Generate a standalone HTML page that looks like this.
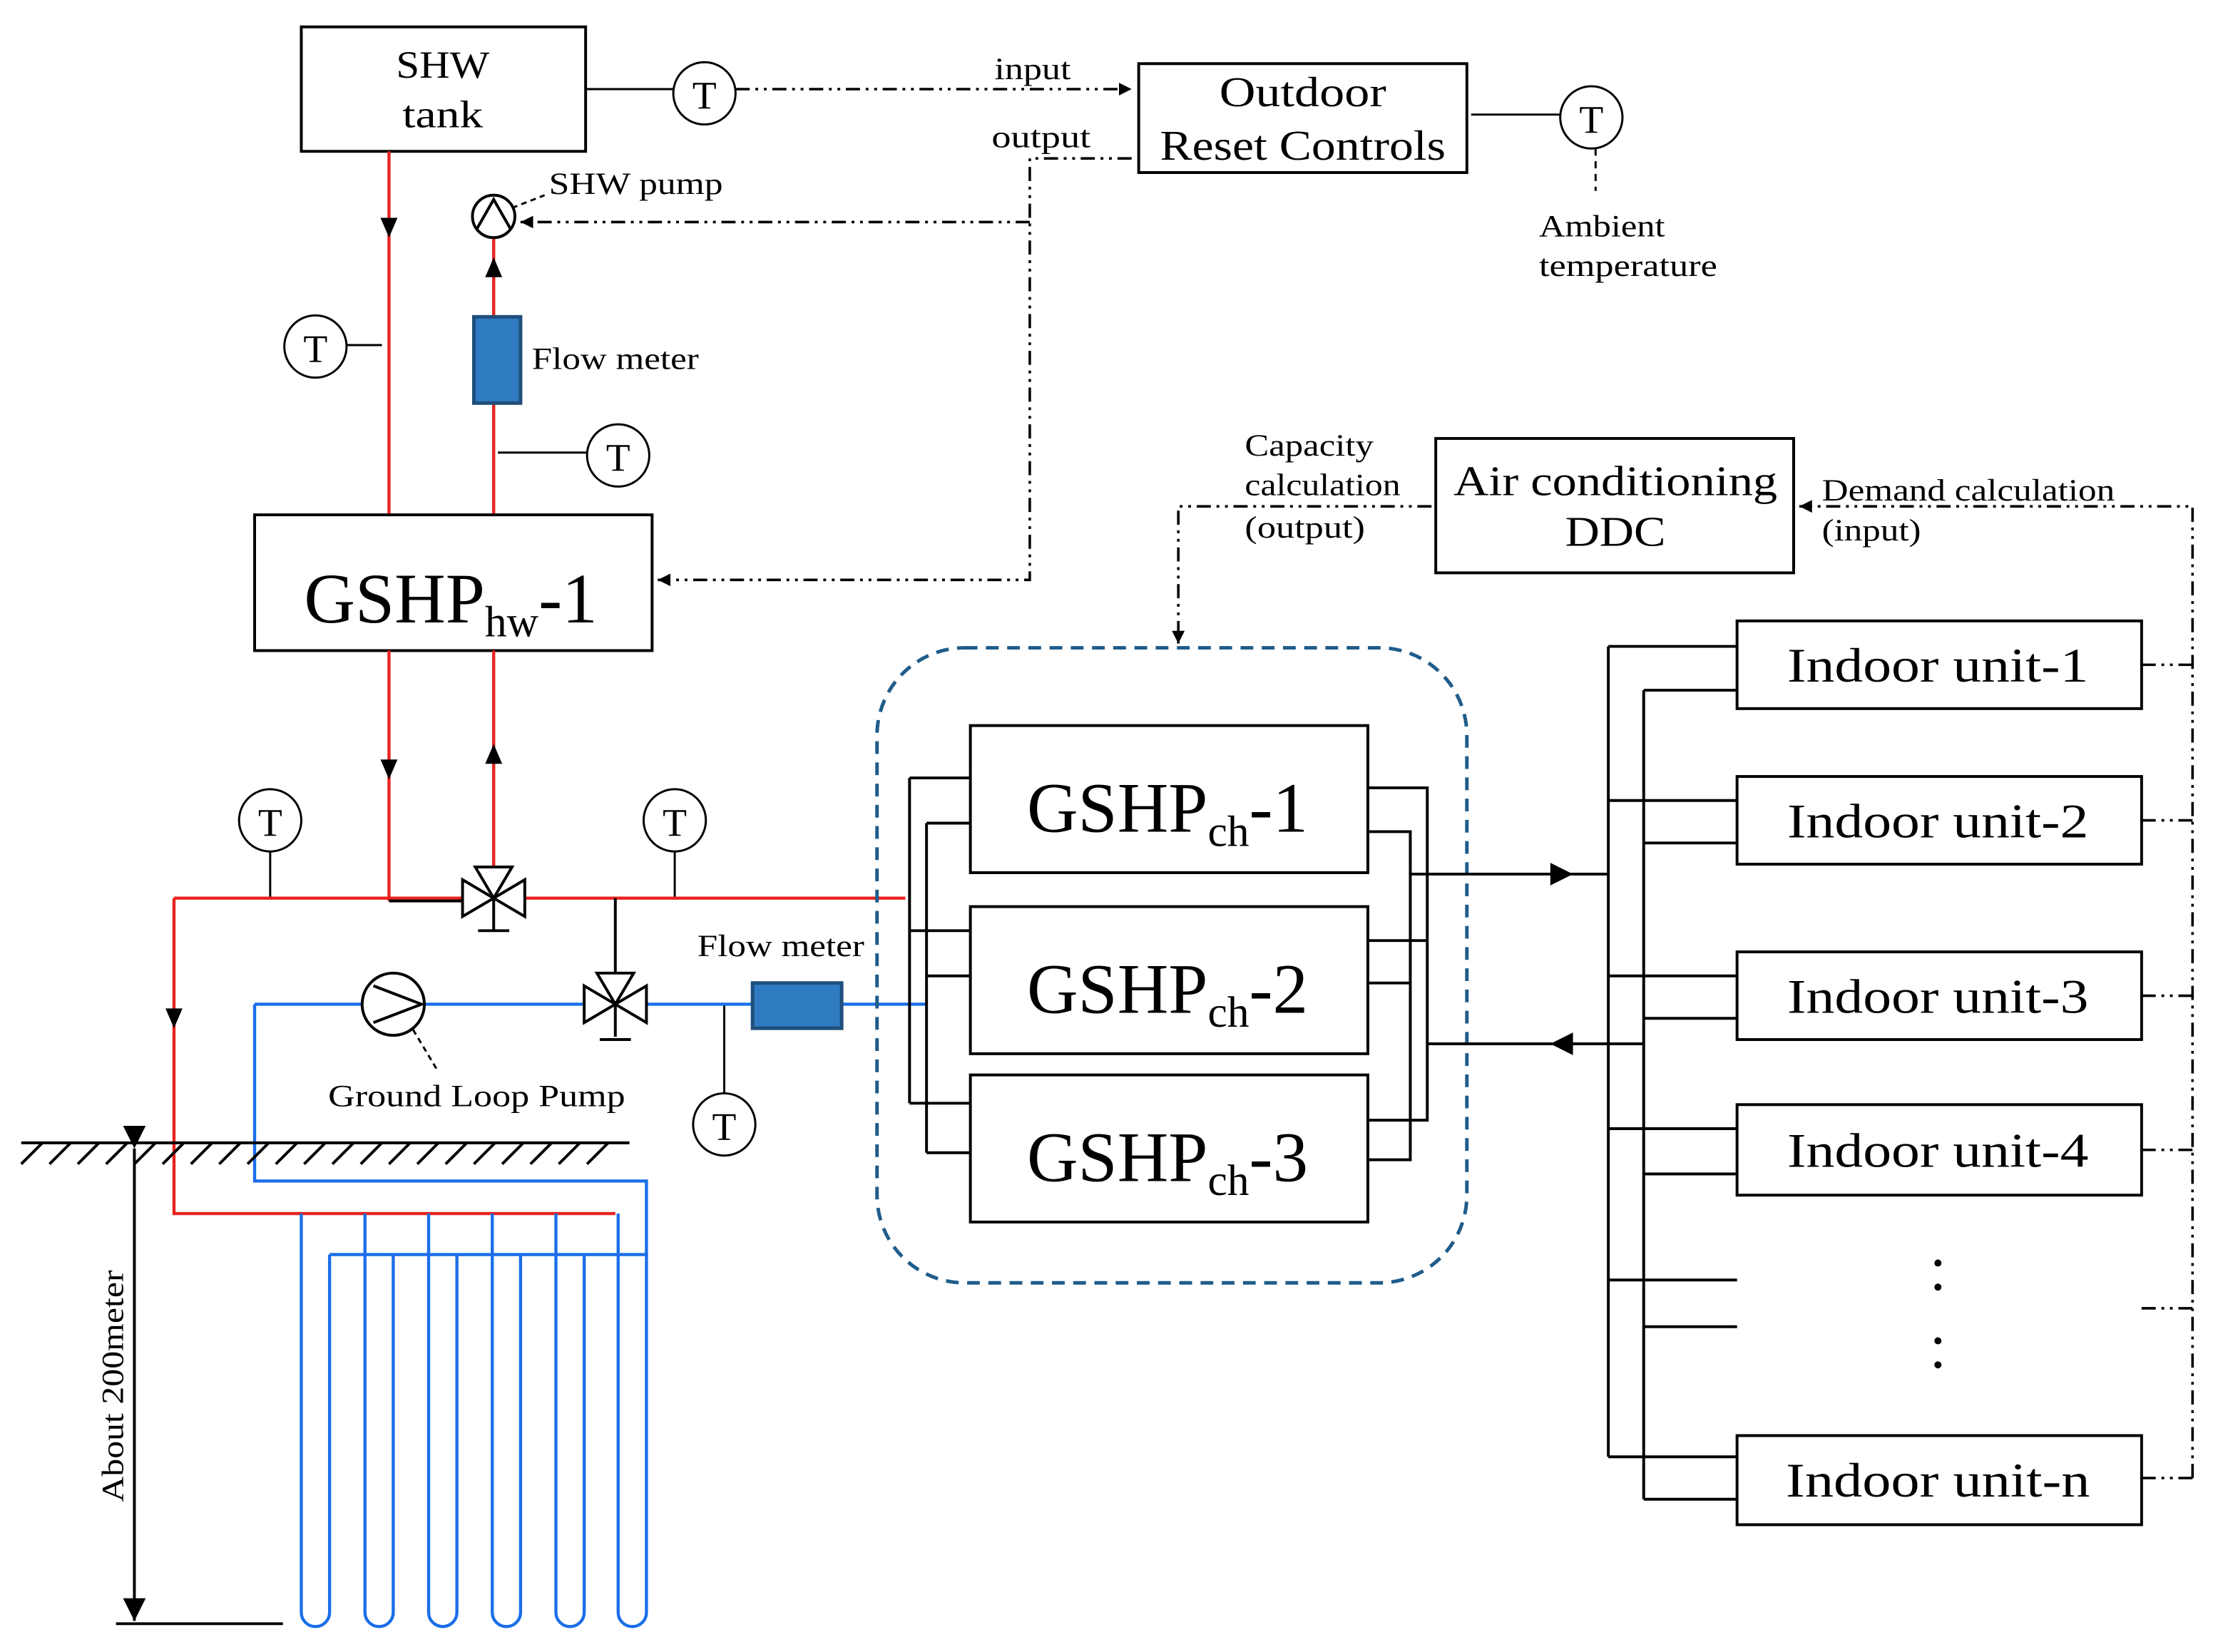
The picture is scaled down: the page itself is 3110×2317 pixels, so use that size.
<!DOCTYPE html>
<html><head><meta charset="utf-8"><style>html,body{margin:0;padding:0;background:#fff}svg{display:block}text{font-family:"Liberation Serif",serif;fill:#000}</style></head><body>
<svg width="3110" height="2317" viewBox="0 0 1568 1168" preserveAspectRatio="none" xmlns="http://www.w3.org/2000/svg">
<defs>
<marker id="a" viewBox="0 0 10 10" refX="10" refY="5" markerWidth="9" markerHeight="9" orient="auto" markerUnits="userSpaceOnUse"><path d="M0,0L10,5L0,10z" fill="#000"/></marker>
<marker id="b" viewBox="0 0 10 10" refX="10" refY="5" markerWidth="16" markerHeight="16" orient="auto" markerUnits="userSpaceOnUse"><path d="M0,0L10,5L0,10z" fill="#000"/></marker>
</defs>
<g fill="none" stroke="#000" stroke-width="2">
<rect x="213" y="19" width="201" height="88"/>
<rect x="805" y="45" width="232" height="77"/>
<rect x="180" y="364" width="281" height="96"/>
<rect x="1015" y="310" width="253" height="95"/>
<rect x="686" y="513" width="281" height="104"/>
<rect x="686" y="641" width="281" height="104"/>
<rect x="686" y="760" width="281" height="104"/>
<rect x="1228" y="439" width="286" height="62"/>
<rect x="1228" y="549" width="286" height="62"/>
<rect x="1228" y="673" width="286" height="62"/>
<rect x="1228" y="781" width="286" height="64"/>
<rect x="1228" y="1015" width="286" height="63"/>
</g>
<g fill="none" stroke="#000" stroke-width="1.5">
<circle cx="498" cy="66" r="22"/><circle cx="1125" cy="83" r="22"/><circle cx="223" cy="245" r="22"/><circle cx="437" cy="322" r="22"/>
<circle cx="191" cy="580" r="22"/><circle cx="477" cy="580" r="22"/><circle cx="512" cy="795" r="22"/>
<path d="M414 63H476M1040 81H1103M245 244H270M352 320H415M191 602V635M477 602V635M512 710V773"/>
<path d="M1128 105V135" stroke-dasharray="5,4"/>
</g>
<g font-size="28" text-anchor="middle">
<text x="498" y="77">T</text><text x="1125" y="94">T</text><text x="223" y="256">T</text><text x="437" y="333">T</text>
<text x="191" y="591">T</text><text x="477" y="591">T</text><text x="512" y="806">T</text>
</g>
<g fill="none" stroke="#000" stroke-width="1.8" stroke-dasharray="10,4,2,4,2,4">
<path d="M520 63H800" marker-end="url(#a)"/>
<path d="M800 112H728V410H465" marker-end="url(#a)"/>
<path d="M728 157H368" marker-end="url(#a)"/>
<path d="M1550 1045V358H1272" marker-end="url(#a)"/>
<path d="M1012 358H833V455" marker-end="url(#a)"/>
<path d="M1514 470H1550M1514 580H1550M1514 704H1550M1514 813H1550M1514 925H1550M1514 1045H1550"/>
</g>
<g fill="none" stroke="#e8231f" stroke-width="2.2">
<path d="M275 107V363M349 168V224M349 285V363M275 460V637M349 460V612M123 635H640M123 635V858H435V858"/>
</g>
<g fill="none" stroke="#1a6ee8" stroke-width="2.2">
<path d="M180 710H256M300 710H532M595 710H655M180 710V835H457V887H233"/>
<path d="M213 858V1140a10 10 0 0 0 20 0V887M258 858V1140a10 10 0 0 0 20 0V887M303 858V1140a10 10 0 0 0 20 0V887M348 858V1140a10 10 0 0 0 20 0V887M393 858V1140a10 10 0 0 0 20 0V887M437 858V1140a10 10 0 0 0 20 0V887"/>
</g>
<g fill="#000">
<path d="M269 154h12l-6 14z"/><path d="M343 196h12l-6 -14z"/>
<path d="M269 537h12l-6 14z"/><path d="M343 540h12l-6 -14z"/>
<path d="M117 713h12l-6 14z"/>
</g>
<circle cx="349" cy="153" r="15" fill="#fff" stroke="#000" stroke-width="2"/>
<path d="M337 162L349 141L361 162" fill="none" stroke="#000" stroke-width="2"/>
<path d="M362 147L385 138" stroke="#000" stroke-width="1.5" stroke-dasharray="4,3"/>
<rect x="335" y="224" width="33" height="61" fill="#2f7bc2" stroke="#1f4e7a" stroke-width="2.5"/>
<rect x="532" y="695" width="63" height="32" fill="#2f7bc2" stroke="#1f4e7a" stroke-width="2.5"/>
<circle cx="278" cy="710" r="22" fill="#fff" stroke="#000" stroke-width="2"/>
<path d="M264 697L298 710L264 723" fill="none" stroke="#000" stroke-width="2"/>
<path d="M292 728L310 758" stroke="#000" stroke-width="1.5" stroke-dasharray="4,3"/>
<g fill="#fff" stroke="#000" stroke-width="2">
<path d="M275 637H330"/>
<path d="M327 622L349 635L327 648zM371 622L349 635L371 648zM336 613L349 635L362 613z"/>
<path d="M349 635V658M338 658H360"/>
<path d="M435 635V688"/>
<path d="M413 697L435 710L413 723zM457 697L435 710L457 723zM422 688L435 710L448 688z"/>
<path d="M435 710V733M424 735H446"/>
</g>
<g stroke="#000" stroke-width="2" fill="none">
<path d="M15 808H445"/>
<path d="M15 823L30 808M35 823L50 808M55 823L70 808M75 823L90 808M95 823L110 808M115 823L130 808M135 823L150 808M155 823L170 808M175 823L190 808M195 823L210 808M215 823L230 808M235 823L250 808M255 823L270 808M275 823L290 808M295 823L310 808M315 823L330 808M335 823L350 808M355 823L370 808M375 823L390 808M395 823L410 808M415 823L430 808"/>
<path d="M95 812V1146" marker-start="url(#b)" marker-end="url(#b)"/>
<path d="M82 1148H200"/>
</g>
<text transform="translate(87,1062) rotate(-90)" font-size="22" textLength="164" lengthAdjust="spacingAndGlyphs">About 200meter</text>
<rect x="620" y="458" width="417" height="449" rx="62" fill="none" stroke="#1f5c8a" stroke-width="2.5" stroke-dasharray="9,6"/>
<g fill="none" stroke="#000" stroke-width="2">
<path d="M643 550V780M655 582V815M643 550H686M655 582H686M643 658H686M655 690H686M643 780H686M655 815H686"/>
<path d="M967 557H1009V792H967M967 588H997V820H967M967 665H1009M967 695H997"/>
<path d="M997 618H1137"/>
<path d="M1009 738H1162"/>
<path d="M1137 457V1030M1162 488V1060"/>
<path d="M1137 457H1228M1162 488H1228M1137 566H1228M1162 596H1228M1137 690H1228M1162 720H1228M1137 798H1228M1162 830H1228M1137 905H1228M1162 938H1228M1137 1030H1228M1162 1060H1228"/>
</g>
<path d="M1096 610L1112 618L1096 626z" fill="#000"/>
<path d="M1112 730L1096 738L1112 746z" fill="#000"/>
<g fill="#000"><circle cx="1370" cy="893" r="2.5"/><circle cx="1370" cy="910" r="2.5"/><circle cx="1370" cy="948" r="2.5"/><circle cx="1370" cy="965" r="2.5"/></g>
<g font-size="27" text-anchor="middle" lengthAdjust="spacingAndGlyphs">
<text x="313" y="55" textLength="66" lengthAdjust="spacingAndGlyphs">SHW</text><text x="313" y="90" textLength="57" lengthAdjust="spacingAndGlyphs">tank</text>
<text x="921" y="75" font-size="30" textLength="118" lengthAdjust="spacingAndGlyphs">Outdoor</text><text x="921" y="113" font-size="30" textLength="202" lengthAdjust="spacingAndGlyphs">Reset Controls</text>
<text x="1142" y="350" font-size="30" textLength="229" lengthAdjust="spacingAndGlyphs">Air conditioning</text><text x="1142" y="386" font-size="30" textLength="71" lengthAdjust="spacingAndGlyphs">DDC</text>
<text x="1370" y="482" font-size="34" textLength="213" lengthAdjust="spacingAndGlyphs">Indoor unit-1</text>
<text x="1370" y="592" font-size="34" textLength="213" lengthAdjust="spacingAndGlyphs">Indoor unit-2</text>
<text x="1370" y="716" font-size="34" textLength="213" lengthAdjust="spacingAndGlyphs">Indoor unit-3</text>
<text x="1370" y="825" font-size="34" textLength="213" lengthAdjust="spacingAndGlyphs">Indoor unit-4</text>
<text x="1370" y="1058" font-size="34" textLength="215" lengthAdjust="spacingAndGlyphs">Indoor unit-n</text>
</g>
<g font-size="50">
<text x="215" y="440">GSHP<tspan font-size="31" dy="10">hw</tspan><tspan dy="-10">-1</tspan></text>
<text x="726" y="588">GSHP<tspan font-size="31" dy="10">ch</tspan><tspan dy="-10">-1</tspan></text>
<text x="726" y="716">GSHP<tspan font-size="31" dy="10">ch</tspan><tspan dy="-10">-2</tspan></text>
<text x="726" y="835">GSHP<tspan font-size="31" dy="10">ch</tspan><tspan dy="-10">-3</tspan></text>
</g>
<g font-size="22">
<text x="703" y="56" textLength="54" lengthAdjust="spacingAndGlyphs">input</text><text x="701" y="104" textLength="70" lengthAdjust="spacingAndGlyphs">output</text>
<text x="388" y="137" textLength="123" lengthAdjust="spacingAndGlyphs">SHW pump</text>
<text x="376" y="261" textLength="118" lengthAdjust="spacingAndGlyphs">Flow meter</text>
<text x="1088" y="167" textLength="89" lengthAdjust="spacingAndGlyphs">Ambient</text><text x="1088" y="195" textLength="126" lengthAdjust="spacingAndGlyphs">temperature</text>
<text x="880" y="322" textLength="91" lengthAdjust="spacingAndGlyphs">Capacity</text><text x="880" y="350" textLength="110" lengthAdjust="spacingAndGlyphs">calculation</text><text x="880" y="380" textLength="85" lengthAdjust="spacingAndGlyphs">(output)</text>
<text x="1288" y="354" textLength="207" lengthAdjust="spacingAndGlyphs">Demand calculation</text><text x="1288" y="382" textLength="70" lengthAdjust="spacingAndGlyphs">(input)</text>
<text x="493" y="676" textLength="118" lengthAdjust="spacingAndGlyphs">Flow meter</text>
<text x="232" y="782" textLength="210" lengthAdjust="spacingAndGlyphs">Ground Loop Pump</text>
</g>
</svg>
</body></html>
